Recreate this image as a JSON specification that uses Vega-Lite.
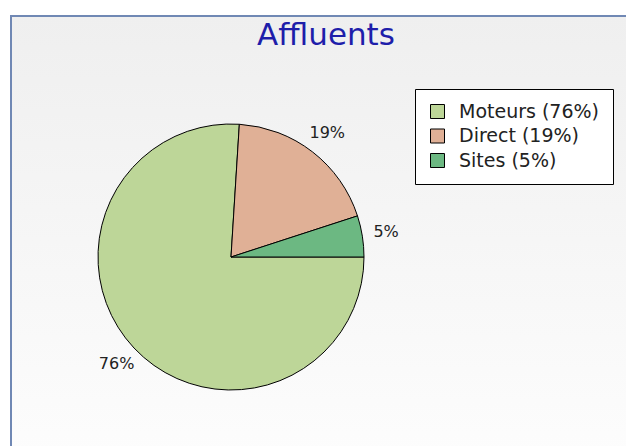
{
  "$schema": "https://vega.github.io/schema/vega-lite/v6.json",
  "padding": {"left": 10, "top": 15, "right": 0, "bottom": -51},
  "background": "#ffffff",
  "spacing": 0,
  "bounds": "flush",
  "hconcat": [
    {
      "width": 440,
      "height": 482,
      "title": {"text": "Affluents", "font": "DejaVu Sans", "fontSize": 31, "fontWeight": "normal", "color": "#1e1eaa", "anchor": "middle", "frame": "group", "offset": -60, "baseline": "alphabetic", "dx": 95},
      "view": {
        "stroke": "#7088b4",
        "strokeWidth": 2,
        "strokeDash": [440, 922, 482],
        "fill": {"gradient": "linear", "x1": 0, "y1": 0, "x2": 0, "y2": 1, "stops": [{"offset": 0, "color": "#efefef"}, {"offset": 1, "color": "#fefefe"}]}
      },
      "data": {"values": [
        {"source": "Moteurs", "legend": "Moteurs (76%)", "share": 76, "pct": "76%"},
        {"source": "Direct", "legend": "Direct (19%)", "share": 19, "pct": "19%"},
        {"source": "Sites", "legend": "Sites (5%)", "share": 5, "pct": "5%"}
      ]},
      "encoding": {
        "theta": {"field": "share", "type": "quantitative", "stack": true, "scale": {"range": [1.5708, 7.8540]}},
        "order": {"field": "share", "sort": "descending"},
        "color": {
          "field": "legend", "type": "nominal",
          "scale": {"domain": ["Moteurs (76%)", "Direct (19%)", "Sites (5%)"], "range": ["#bdd698", "#e0b096", "#6cb882"]},
          "legend": {"title": null}
        }
      },
      "layer": [
        {"mark": {"type": "arc", "outerRadius": 133, "stroke": "#000000", "strokeWidth": 1}},
        {
          "mark": {"type": "text", "radius": 157, "font": "DejaVu Sans", "fontSize": 16, "align": "center", "baseline": "middle"},
          "encoding": {"text": {"field": "pct"}, "color": {"value": "#222222"}, "detail": {"field": "legend"}}
        }
      ]
    },
    {
      "width": 176,
      "height": 482,
      "view": {
        "stroke": "#7088b4",
        "strokeWidth": 2,
        "strokeDash": [176, 2000],
        "fill": {"gradient": "linear", "x1": 0, "y1": 0, "x2": 0, "y2": 1, "stops": [{"offset": 0, "color": "#efefef"}, {"offset": 1, "color": "#fefefe"}]}
      },
      "data": {"values": []},
      "mark": "point"
    }
  ],
  "config": {
    "legend": {
      "orient": "none", "legendX": 404, "legendY": 73,
      "fillColor": "#ffffff", "strokeColor": "#000000", "padding": 13,
      "symbolType": "square", "symbolSize": 196, "symbolStrokeColor": "#000000", "symbolStrokeWidth": 1, "symbolOpacity": 1,
      "labelFont": "DejaVu Sans", "labelFontSize": 19, "labelColor": "#222222", "labelOffset": 12, "rowPadding": 4.5, "labelLimit": 0
    }
  }
}
